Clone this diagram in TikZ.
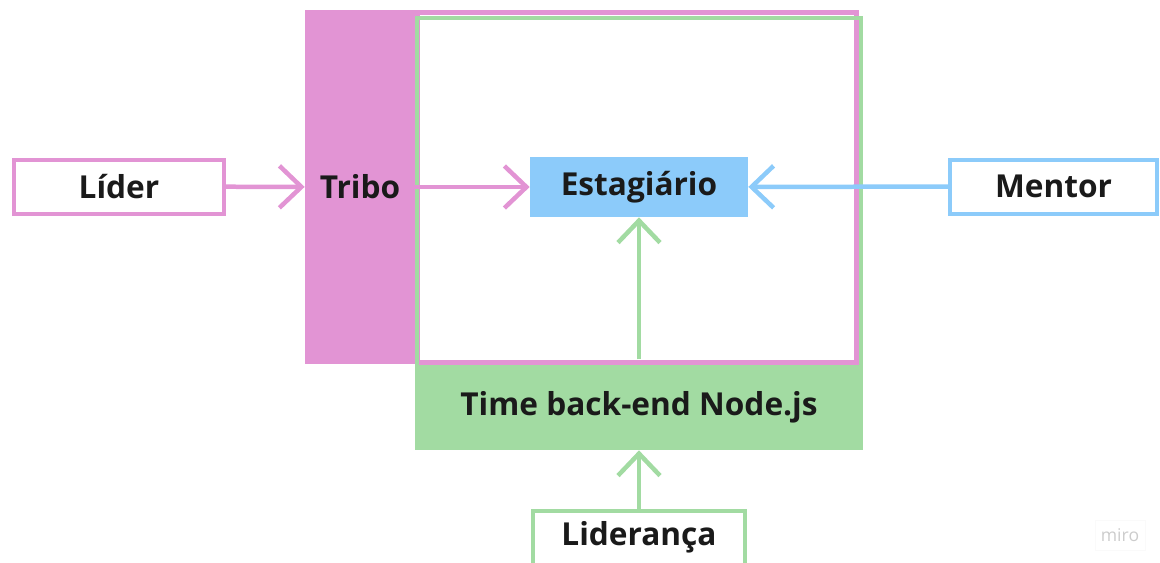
\documentclass[tikz,border=0pt]{standalone}
\usepackage{fontspec}
\setmainfont{Open Sans}
\usepackage{xcolor}
\usepackage{tikz}
\usetikzlibrary{positioning,arrows.meta}

\definecolor{tribopink}{HTML}{E294D4}
\definecolor{timegreen}{HTML}{A2DBA2}
\definecolor{mentorblue}{HTML}{8CCBFA}
\definecolor{inktext}{HTML}{1A1A1A}

\tikzset{
    label text/.style={font=\fontsize{18}{21}\selectfont\bfseries, text=inktext},
    outline box/.style={draw=#1, line width=0.08cm, fill=white, label text,
        minimum width=4.2cm, minimum height=1.08cm},
    barb/.style={draw=#1, line width=0.09cm,
        -{Straight Barb[length=0.44cm, width=0.84cm]}},
}

\begin{document}
\begin{tikzpicture}[x=0.02cm, y=-0.02cm]
        \useasboundingbox (0,0) rectangle (1160,562);

        % tribo: coluna rosa e moldura
        \node (tribo) [fill=tribopink, label text, minimum width=2.2cm, minimum height=7.08cm, inner sep=0pt] at (360,187) {Tribo};
        \draw [tribopink, line width=0.1cm] (417,12.5) rectangle (856,362);

        % time: faixa verde e moldura
        \node (time) [fill=timegreen, label text, minimum width=8.96cm, minimum height=1.7cm, inner sep=0pt] at (639,407.5) {Time back-end Node.js};
        \draw [timegreen, line width=0.08cm] (417,17.5) rectangle (861,448);

        \node (estagiario) [fill=mentorblue, label text, minimum width=4.36cm, minimum height=1.2cm, inner sep=0pt] at (639,187) {Estagiário};

        \node (lider) [outline box=tribopink] at (119,186.5) {Líder};
        \node (mentor) [outline box=mentorblue, minimum width=4.14cm] at (1053.5,186.5) {Mentor};
        \node (lideranca) [outline box=timegreen, minimum width=4.24cm] at (639,537.5) {Liderança};

        \draw [barb=tribopink] (lider) -- (tribo);
        \draw [barb=tribopink] (tribo) -- (estagiario);
        \draw [barb=mentorblue] (mentor) -- (estagiario);
        \draw [barb=timegreen] ([yshift=3pt]time.north) -- (estagiario);
        \draw [barb=timegreen] (lideranca) -- (time);

        \node (miro) [draw=gray!4, text=gray!40, font=\fontsize{10}{12}\selectfont, minimum width=1cm, minimum height=0.6cm] at (1120,535) {miro};
    \end{tikzpicture}
\end{document}
